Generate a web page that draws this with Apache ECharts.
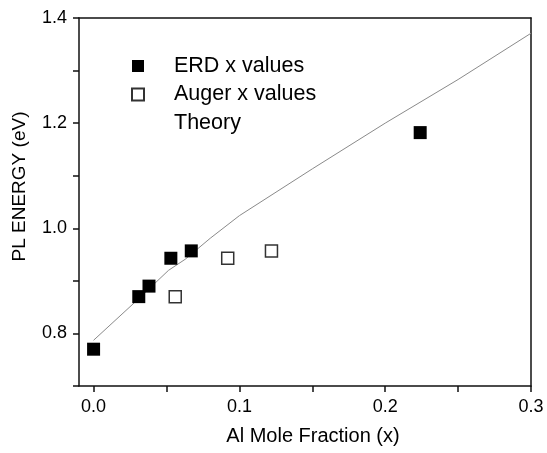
<!DOCTYPE html>
<html>
<head>
<meta charset="utf-8">
<script src="https://cdn.jsdelivr.net/npm/echarts@6/dist/echarts.min.js"></script>
<style>
  html, body { margin: 0; padding: 0; background: #fff; }
  #chart { width: 547px; height: 453px; }
</style>
</head>
<body>
<div id="chart"></div>
<script>
// data
var erdX = [0.0, 0.031, 0.038, 0.053, 0.067, 0.224];
var erdY = [0.770, 0.870, 0.890, 0.943, 0.957, 1.182];
var augerX = [0.056, 0.092, 0.122];
var augerY = [0.870, 0.943, 0.957];
var theoryX = [0.0, 0.0286, 0.0514, 0.0628, 0.08, 0.1, 0.15, 0.2, 0.25, 0.3];
var theoryY = [0.787, 0.860, 0.920, 0.941, 0.981, 1.024, 1.113, 1.200, 1.283, 1.371];
var xTicks = [0, 0.05, 0.1, 0.15, 0.2, 0.25, 0.3];
var xLabels = [0, 0.1, 0.2, 0.3];
var yTicks = [0.7, 0.8, 0.9, 1.0, 1.1, 1.2, 1.3, 1.4];
var yLabels = [0.8, 1.0, 1.2, 1.4];

function pairs(xs, ys) {
  return xs.map(function (x, i) { return [x, ys[i]]; });
}

var font = "'Liberation Sans', Arial, sans-serif";
var axisColor = '#111';
// square legend marker sitting in a wide icon box (the moveTo points set the box)
var squareIcon = 'path://M0,0M58,12M23,0L35,0L35,12L23,12Z';

var chart = echarts.init(document.getElementById('chart'));

var frameAxis = {
  axisLine: { show: true, onZero: false, lineStyle: { color: axisColor, width: 1.5 } },
  axisTick: { show: false },
  axisLabel: { show: false },
  splitLine: { show: false }
};

var option = {
  animation: false,
  backgroundColor: '#fff',
  textStyle: { fontFamily: font, color: '#000' },
  grid: { left: 79, right: 16, top: 18, bottom: 67 },
  legend: {
    orient: 'vertical',
    left: 103,
    top: 50,
    itemWidth: 58,
    itemHeight: 12,
    itemGap: 6.5,
    selectedMode: false,
    textStyle: { fontSize: 21.5, color: '#000', fontFamily: font, padding: [2, 0, 0, 2] },
    data: [
      { name: 'ERD x values', icon: squareIcon },
      { name: 'Auger x values', icon: squareIcon },
      { name: 'Theory', icon: 'none' }
    ]
  },
  xAxis: [
    {
      type: 'value',
      min: -0.01,
      max: 0.3,
      name: 'Al Mole Fraction (x)',
      nameLocation: 'middle',
      nameGap: 40,
      nameTextStyle: { fontSize: 20, color: '#000', fontFamily: font, padding: [0, 0, 0, 16] },
      axisLine: { onZero: false, lineStyle: { color: axisColor, width: 1.5 } },
      axisTick: { show: true, inside: false, length: 6, customValues: xTicks, lineStyle: { color: axisColor, width: 1.5 } },
      axisLabel: {
        customValues: xLabels, margin: 12, fontSize: 18, color: '#000', fontFamily: font,
        formatter: function (v) { return v.toFixed(1); }
      },
      splitLine: { show: false }
    },
    Object.assign({ type: 'value', min: -0.01, max: 0.3, position: 'top' }, frameAxis)
  ],
  yAxis: [
    {
      type: 'value',
      min: 0.7,
      max: 1.4,
      name: 'PL ENERGY (eV)',
      nameLocation: 'middle',
      nameGap: 50,
      nameRotate: 90,
      nameTextStyle: { fontSize: 19, color: '#000', fontFamily: font, padding: [0, 0, 0, 31] },
      axisLine: { onZero: false, lineStyle: { color: axisColor, width: 1.5 } },
      axisTick: { show: true, inside: false, length: 6, customValues: yTicks, lineStyle: { color: axisColor, width: 1.5 } },
      axisLabel: {
        customValues: yLabels, margin: 12, fontSize: 18, color: '#000', fontFamily: font,
        formatter: function (v) { return v.toFixed(1); }
      },
      splitLine: { show: false }
    },
    Object.assign({ type: 'value', min: 0.7, max: 1.4, position: 'right' }, frameAxis)
  ],
  series: [
    {
      name: 'Theory',
      type: 'line',
      data: pairs(theoryX, theoryY),
      symbol: 'none',
      showSymbol: false,
      lineStyle: { color: '#8a8a8a', width: 1 },
      itemStyle: { color: '#8a8a8a' },
      z: 1
    },
    {
      name: 'ERD x values',
      type: 'scatter',
      data: pairs(erdX, erdY),
      symbol: 'rect',
      symbolSize: 13,
      itemStyle: { color: '#000', opacity: 1 },
      z: 3
    },
    {
      name: 'Auger x values',
      type: 'scatter',
      data: pairs(augerX, augerY),
      symbol: 'rect',
      symbolSize: 12,
      itemStyle: { color: '#fff', borderColor: '#333', borderWidth: 1.5, opacity: 1 },
      z: 3
    }
  ]
};

chart.setOption(option);
</script>
</body>
</html>
